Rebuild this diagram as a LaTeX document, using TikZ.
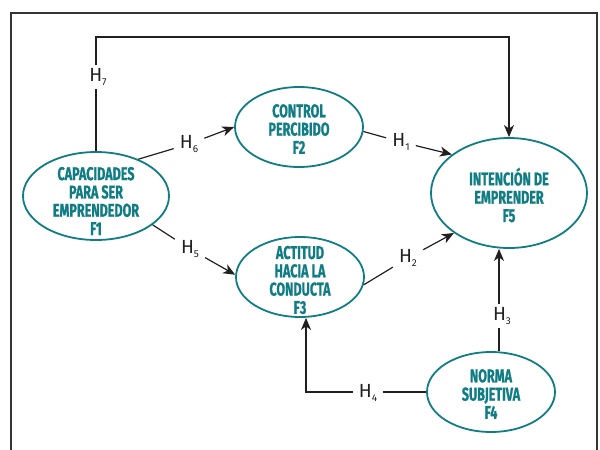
\documentclass[tikz,border=0pt]{standalone}
\usepackage{fontspec}
\usetikzlibrary{shapes.geometric,arrows.meta}
\newfontfamily\factfont[FakeStretch=0.68, FakeBold=0.9]{Fira Sans}
\newfontfamily\hypfont{Fira Sans}
\definecolor{factcol}{RGB}{16,124,132}
\definecolor{linecol}{RGB}{35,31,32}
\newcommand{\hyp}[1]{H\raisebox{-3.5pt}{\fontsize{10}{10}\selectfont #1}}

\begin{document}
\begin{tikzpicture}[x=1pt,y=-1pt,
  fact/.style={ellipse, draw=factcol, line width=1.8pt, inner sep=0pt},
  facttext/.style={text=factcol, font=\factfont\bfseries\fontsize{18.5}{18.3}\selectfont,
    align=center, inner sep=0pt},
  hyp/.style={font=\hypfont\fontsize{19}{19}\selectfont, text=linecol,
    inner xsep=6pt, inner ysep=3pt},
  link/.style={draw=linecol, line width=1.2pt},
  arrow/.style={link, -{Stealth[length=12pt,width=10pt,inset=3.5pt]}}]
\useasboundingbox (0,0) rectangle (600,450);

% open frame
\draw[line width=1.4pt, draw=black!80] (11,460) -- (11,13) -- (597,13) -- (597,460);

% factors
\node[fact, minimum width=146pt, minimum height=88pt]  (f1) at (96,196) {};
\node[fact, minimum width=128pt, minimum height=80pt]  (f2) at (299,127) {};
\node[fact, minimum width=128pt, minimum height=80pt]  (f3) at (300,277) {};
\node[fact, minimum width=128pt, minimum height=80pt]  (f4) at (491,392) {};
\node[fact, minimum width=156pt, minimum height=110pt] (f5) at (509,193) {};

\node[facttext] (t1) at (96,201) {CAPACIDADES\\PARA SER\\EMPRENDEDOR\\F1};
\node[facttext] (t2) at (299,129) {CONTROL\\PERCIBIDO\\F2};
\node[facttext] (t3) at (300,280) {ACTITUD\\HACIA LA\\CONDUCTA\\F3};
\node[facttext] (t4) at (491,394) {NORMA\\SUBJETIVA\\F4};
\node[facttext] (t5) at (509,195) {INTENCIÓN DE\\EMPRENDER\\F5};

% hypothesis labels
\node[hyp] (h1) at (401,142) {\hyp{1}};
\node[hyp] (h2) at (408,258) {\hyp{2}};
\node[hyp] (h3) at (502,316) {\hyp{3}};
\node[hyp] (h4) at (368,393) {\hyp{4}};
\node[hyp] (h5) at (190,249) {\hyp{5}};
\node[hyp] (h6) at (189,144) {\hyp{6}};
\node[hyp] (h7) at (98,77)   {\hyp{7}};

\coordinate (x3) at (499,316);
\coordinate (c4) at (306,392);
\coordinate (c7) at (509,37);

% connectors
\draw[link]  (f1.41) -- (h6);
\draw[arrow] (h6) -- (f2.180);
\draw[link]  (f1.-27) -- (h5);
\draw[arrow] (h5) -- (f3.178);
\draw[link]  (f2.-4) -- (h1);
\draw[arrow] (h1) -- (f5.146);
\draw[link]  (f3.-7) -- (h2);
\draw[arrow] (h2) -- (f5.216);
\draw[link]  (x3 |- f4.north) -- (x3 |- h3.south);
\draw[arrow] (x3 |- h3.north) -- (x3 |- f5.south);
\draw[link]  (f4.west) -- (f4.west -| h4.east);
\draw[arrow] (f4.west -| h4.west) -- (c4) -- (c4 |- f3.south);
\draw[link]  (f1.north) -- (f1.north |- h7.south);
\draw[arrow] (f1.north |- h7.north) |- (c7) -- (f5.north);
\end{tikzpicture}
\end{document}
